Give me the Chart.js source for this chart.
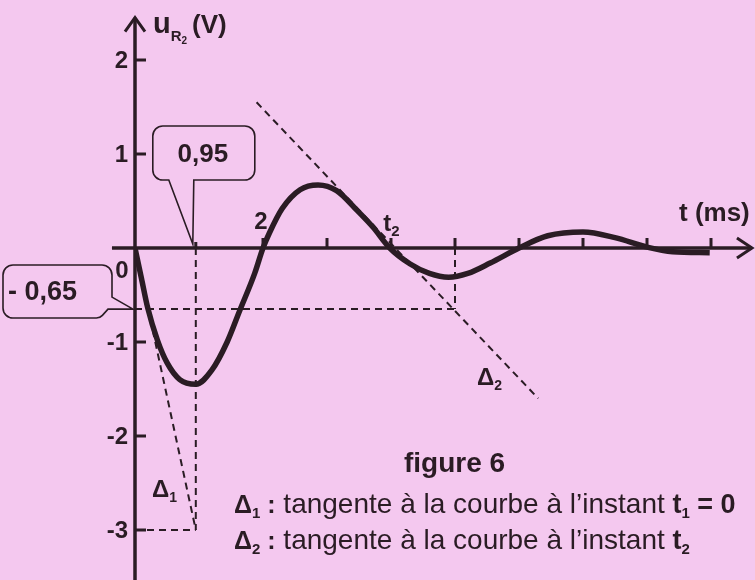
<!DOCTYPE html>
<html lang="fr">
<head>
<meta charset="UTF-8">
<title>figure 6</title>
<style>
    html, body {
        margin: 0;
        padding: 0;
        background: #f4c8ef;
    }
    #wrap {
        position: relative;
        width: 755px;
        height: 580px;
    }
</style>
<script src="https://cdn.jsdelivr.net/npm/chart.js"></script>
</head>
<body>
<div id="wrap"><canvas id="graph"></canvas></div>
<script>
    // courbe u_R2(t) (t en ms, u en V)
    const tValues = [0, 0.1, 0.2, 0.35, 0.5, 0.7, 0.95, 1.2, 1.44, 1.64, 1.87, 2.0, 2.1, 2.3, 2.58, 2.86, 3.15, 3.47, 3.72, 3.98, 4.3, 4.6, 4.9, 5.2, 5.55, 6.0, 6.45, 7.0, 7.5, 8.0, 8.4, 8.98];
    const uValues = [0, -0.32, -0.64, -0.98, -1.22, -1.40, -1.45, -1.30, -1.00, -0.66, -0.27, 0, 0.16, 0.42, 0.62, 0.67, 0.61, 0.40, 0.22, 0, -0.17, -0.27, -0.31, -0.27, -0.16, 0, 0.13, 0.17, 0.11, 0.01, -0.04, -0.05];

    // tangentes
    const tangent1T = [0, 0.95];
    const tangent1U = [0, -3];
    const tangent2T = [1.9, 6.3];
    const tangent2U = [1.55, -1.6];

    // traits de construction
    const tMin = 0.95;
    const uTangent1End = -3;
    const uLevel = -0.65;
    const tLevel = 5;

    // graduations
    const yTicks = [2, 1, -1, -2, -3];
    const yTickLabels = ['2', '1', '-1', '-2', '-3'];
    const xTicks = [0.95, 2, 3, 4, 5, 6, 7, 8, 9];

    const ink = '#2a1c24';
    const FONT = 'Arial, "Liberation Sans", sans-serif';

    function pts(ts, us) {
        return ts.map((t, i) => ({ x: t, y: us[i] }));
    }

    function dashed(data) {
        return {
            data: data,
            borderColor: ink,
            borderWidth: 2,
            borderDash: [7, 5],
            pointRadius: 0,
            tension: 0,
            order: 2
        };
    }

    // draws a run of text pieces one after another
    function rich(ctx, x, y, parts) {
        let cx = x;
        ctx.textAlign = 'left';
        ctx.textBaseline = 'alphabetic';
        for (const p of parts) {
            ctx.font = p.f;
            ctx.fillText(p.t, cx, y + (p.dy || 0));
            cx += ctx.measureText(p.t).width + (p.gap || 0);
        }
    }

    const mathAxes = {
        id: 'mathAxes',
        afterDraw(chart) {
            const ctx = chart.ctx;
            const X = v => chart.scales.x.getPixelForValue(v);
            const Y = v => chart.scales.y.getPixelForValue(v);
            const x0 = X(0), y0 = Y(0);
            ctx.save();
            ctx.strokeStyle = ink;
            ctx.fillStyle = ink;
            ctx.setLineDash([]);

            // axes
            ctx.lineWidth = 3.5;
            ctx.beginPath();
            ctx.moveTo(X(-0.36), y0);
            ctx.lineTo(X(9.64), y0);
            ctx.moveTo(x0, chart.height);
            ctx.lineTo(x0, Y(2.45));
            ctx.stroke();
            ctx.lineWidth = 3;
            ctx.beginPath();
            ctx.moveTo(X(9.64) - 15, y0 - 10);
            ctx.lineTo(X(9.64), y0);
            ctx.lineTo(X(9.64) - 15, y0 + 10);
            ctx.moveTo(x0 - 10, Y(2.45) + 14);
            ctx.lineTo(x0, Y(2.45));
            ctx.lineTo(x0 + 10, Y(2.45) + 14);
            ctx.stroke();

            // graduations
            ctx.lineWidth = 3;
            ctx.beginPath();
            yTicks.forEach(v => {
                ctx.moveTo(x0, Y(v));
                ctx.lineTo(x0 + 11, Y(v));
            });
            xTicks.forEach(v => {
                ctx.moveTo(X(v), y0);
                ctx.lineTo(X(v), y0 - (v === tMin ? 6 : 10));
            });
            ctx.stroke();

            ctx.font = 'bold 24px ' + FONT;
            ctx.textAlign = 'right';
            ctx.textBaseline = 'middle';
            yTicks.forEach((v, i) => ctx.fillText(yTickLabels[i], x0 - 7, Y(v) + 1));
            ctx.textAlign = 'center';
            ctx.fillText('0', x0 - 13, y0 + 23);
            ctx.fillText('2', X(2) - 2, y0 - 26);

            rich(ctx, X(3.88), y0 - 17, [
                { t: 't', f: 'bold 24px ' + FONT },
                { t: '2', f: 'bold 15px ' + FONT, dy: 5 }
            ]);
            rich(ctx, X(8.5), y0 - 27, [{ t: 't (ms)', f: 'bold 26px ' + FONT }]);
            rich(ctx, x0 + 18, Y(2.45) + 15, [
                { t: 'u', f: 'bold 29px ' + FONT },
                { t: 'R', f: 'bold 15px ' + FONT, dy: 8 },
                { t: '2', f: 'bold 10px ' + FONT, dy: 11, gap: 5 },
                { t: '(V)', f: 'bold 26px ' + FONT }
            ]);

            // bulle 0,95
            const px = X(tMin) - 3, tipY = y0 - 4;
            ctx.lineWidth = 1.6;
            ctx.beginPath();
            const L = px - 40, R = px + 62, T = 126, B = 180, r = 10;
            ctx.moveTo(L + r, T);
            ctx.arcTo(R, T, R, B, r);
            ctx.arcTo(R, B, L, B, r);
            ctx.lineTo(px + 1, B);
            ctx.lineTo(px, tipY);
            ctx.lineTo(px - 24, B);
            ctx.arcTo(L, B, L, T, r);
            ctx.arcTo(L, T, R, T, r);
            ctx.closePath();
            ctx.stroke();
            ctx.font = 'bold 26px ' + FONT;
            ctx.textAlign = 'center';
            ctx.textBaseline = 'middle';
            ctx.fillText('0,95', px + 10, 155);

            // bulle -0,65
            const ty = Y(uLevel), tx = x0 - 2;
            const L2 = 3, R2 = 112, T2 = 265, B2 = 318;
            ctx.beginPath();
            ctx.moveTo(L2 + r, T2);
            ctx.arcTo(R2, T2, R2, B2, r);
            ctx.lineTo(R2, ty - 12);
            ctx.lineTo(tx, ty);
            ctx.lineTo(R2 - 4, ty);
            ctx.arcTo(R2 - 12, B2, L2, B2, 8);
            ctx.arcTo(L2, B2, L2, T2, r);
            ctx.arcTo(L2, T2, R2, T2, r);
            ctx.closePath();
            ctx.stroke();
            ctx.textAlign = 'left';
            ctx.font = 'bold 27px ' + FONT;
            ctx.fillText('- 0,65', 8, 293);

            // noms des tangentes
            rich(ctx, 152, 497, [
                { t: 'Δ', f: 'bold 24px ' + FONT },
                { t: '1', f: 'bold 14px ' + FONT, dy: 5 }
            ]);
            rich(ctx, 477, 385, [
                { t: 'Δ', f: 'bold 24px ' + FONT },
                { t: '2', f: 'bold 14px ' + FONT, dy: 5 }
            ]);

            // légende
            rich(ctx, 404, 472, [{ t: 'figure 6', f: 'bold 28px ' + FONT }]);
            rich(ctx, 234, 513, [
                { t: 'Δ', f: 'bold 25px ' + FONT },
                { t: '1', f: 'bold 15px ' + FONT, dy: 5 },
                { t: ' :', f: 'bold 25px ' + FONT },
                { t: ' tangente à la courbe à l’instant ', f: '28px ' + FONT },
                { t: 't', f: 'bold 27px ' + FONT },
                { t: '1', f: 'bold 15px ' + FONT, dy: 5 },
                { t: ' = 0', f: 'bold 27px ' + FONT }
            ]);
            rich(ctx, 234, 549, [
                { t: 'Δ', f: 'bold 25px ' + FONT },
                { t: '2', f: 'bold 15px ' + FONT, dy: 5 },
                { t: ' :', f: 'bold 25px ' + FONT },
                { t: ' tangente à la courbe à l’instant ', f: '28px ' + FONT },
                { t: 't', f: 'bold 27px ' + FONT },
                { t: '2', f: 'bold 15px ' + FONT, dy: 5 }
            ]);
            ctx.restore();
        }
    };

    new Chart(document.getElementById('graph'), {
        type: 'line',
        data: {
            datasets: [
                {
                    data: pts(tValues, uValues),
                    borderColor: ink,
                    borderWidth: 5.5,
                    pointRadius: 0,
                    cubicInterpolationMode: 'monotone',
                    borderCapStyle: 'butt',
                    order: 0
                },
                dashed(pts(tangent1T, tangent1U)),
                dashed(pts(tangent2T, tangent2U)),
                dashed([{ x: tMin, y: 0 }, { x: tMin, y: uTangent1End }]),
                dashed([{ x: 0, y: uTangent1End }, { x: tMin, y: uTangent1End }]),
                dashed([{ x: 0, y: uLevel }, { x: tLevel, y: uLevel }]),
                dashed([{ x: tLevel, y: 0 }, { x: tLevel, y: uLevel }])
            ]
        },
        options: {
            responsive: true,
            maintainAspectRatio: false,
            animation: false,
            layout: { padding: { left: 135, right: 12, top: 13, bottom: 3 } },
            scales: {
                x: { type: 'linear', min: 0, max: 9.5, display: false },
                y: { type: 'linear', min: -3.5, max: 2.5, display: false }
            },
            plugins: {
                legend: { display: false },
                tooltip: { enabled: false }
            }
        },
        plugins: [mathAxes]
    });
</script>
</body>
</html>
